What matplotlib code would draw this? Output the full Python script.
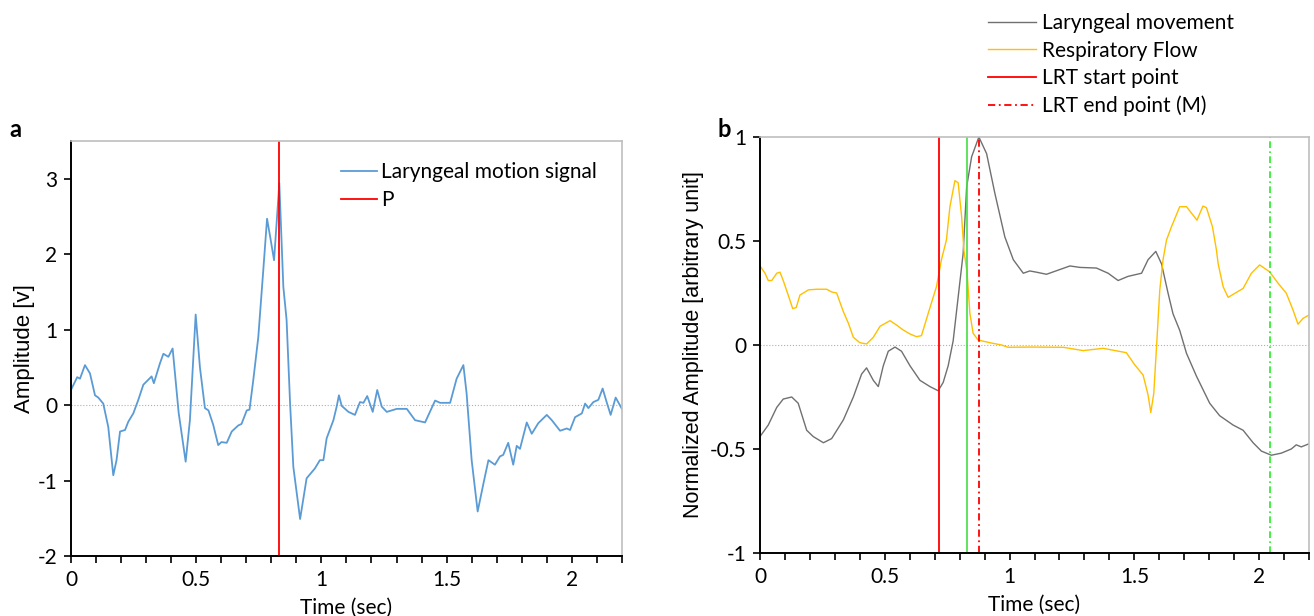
import matplotlib
matplotlib.use('Agg')
import numpy as np
import matplotlib.pyplot as plt
from matplotlib.ticker import MultipleLocator

plt.rcParams['font.family'] = ['Lato', 'DejaVu Sans']
FS = 15
YLABEL_FONT = ['Liberation Sans', 'DejaVu Sans']

# --- panel a: laryngeal motion signal (time in sec, amplitude in v) ---
a_time = [0.0, 0.025, 0.036, 0.056, 0.076, 0.096, 0.109, 0.129, 0.149, 0.169,
          0.182, 0.196, 0.216, 0.229, 0.249, 0.269, 0.289, 0.322, 0.331, 0.355,
          0.369, 0.389, 0.406, 0.43, 0.458, 0.475, 0.498, 0.515, 0.535, 0.549,
          0.568, 0.588, 0.601, 0.622, 0.642, 0.668, 0.681, 0.702, 0.713, 0.728,
          0.748, 0.768, 0.783, 0.797, 0.811, 0.832, 0.848, 0.861, 0.875, 0.888,
          0.915, 0.941, 0.974, 0.994, 1.008, 1.021, 1.048, 1.061, 1.070, 1.081,
          1.108, 1.134, 1.154, 1.168, 1.183, 1.205, 1.223, 1.241, 1.261, 1.301,
          1.341, 1.374, 1.414, 1.454, 1.474, 1.514, 1.540, 1.567, 1.580, 1.600,
          1.624, 1.647, 1.667, 1.693, 1.713, 1.726, 1.746, 1.766, 1.780, 1.793,
          1.820, 1.840, 1.866, 1.900, 1.920, 1.953, 1.980, 1.993, 2.013, 2.040,
          2.053, 2.066, 2.086, 2.106, 2.123, 2.139, 2.155, 2.175, 2.185, 2.2]
a_signal = [0.2, 0.37, 0.35, 0.53, 0.42, 0.13, 0.10, 0.02, -0.29, -0.93,
            -0.73, -0.35, -0.33, -0.22, -0.11, 0.07, 0.27, 0.38, 0.29, 0.55,
            0.68, 0.64, 0.75, -0.1, -0.75, -0.2, 1.2, 0.5, -0.04, -0.07,
            -0.26, -0.53, -0.49, -0.5, -0.35, -0.27, -0.25, -0.07, -0.06, 0.33,
            0.9, 1.79, 2.47, 2.2, 1.92, 2.94, 1.57, 1.13, 0.02, -0.82,
            -1.51, -0.97, -0.84, -0.73, -0.73, -0.44, -0.2, -0.02, 0.13, -0.01,
            -0.09, -0.13, 0.04, 0.03, 0.12, -0.09, 0.2, -0.02, -0.09, -0.05,
            -0.05, -0.2, -0.23, 0.06, 0.03, 0.03, 0.35, 0.53, 0.15, -0.73,
            -1.41, -1.04, -0.73, -0.79, -0.68, -0.66, -0.5, -0.79, -0.54, -0.58,
            -0.23, -0.38, -0.24, -0.13, -0.2, -0.34, -0.31, -0.33, -0.16, -0.11,
            0.02, -0.04, 0.04, 0.07, 0.22, 0.04, -0.13, 0.1, 0.04, -0.05]
p_time = 0.832

# --- panel b: laryngeal movement and respiratory flow (normalized) ---
lm_time = [0.0, 0.033, 0.067, 0.093, 0.127, 0.153, 0.187, 0.213, 0.254, 0.287,
           0.334, 0.374, 0.407, 0.427, 0.454, 0.474, 0.494, 0.514, 0.541, 0.567,
           0.601, 0.641, 0.681, 0.714, 0.734, 0.754, 0.774, 0.794, 0.814, 0.828,
           0.848, 0.877, 0.908, 0.941, 0.981, 1.015, 1.055, 1.081, 1.108, 1.148,
           1.195, 1.242, 1.282, 1.348, 1.395, 1.435, 1.475, 1.529, 1.555, 1.586,
           1.609, 1.635, 1.655, 1.682, 1.709, 1.749, 1.802, 1.842, 1.896, 1.936,
           1.976, 2.009, 2.049, 2.089, 2.129, 2.149, 2.169, 2.2]
lm_value = [-0.44, -0.385, -0.30, -0.26, -0.25, -0.28, -0.41, -0.44, -0.47, -0.45,
            -0.36, -0.25, -0.14, -0.11, -0.17, -0.20, -0.10, -0.03, -0.01, -0.03,
            -0.10, -0.17, -0.20, -0.22, -0.18, -0.10, 0.02, 0.23, 0.44, 0.76,
            0.905, 1.0, 0.92, 0.73, 0.52, 0.41, 0.345, 0.356, 0.35, 0.34,
            0.36, 0.38, 0.373, 0.37, 0.345, 0.31, 0.33, 0.345, 0.41, 0.45,
            0.39, 0.25, 0.15, 0.07, -0.04, -0.15, -0.28, -0.34, -0.385, -0.41,
            -0.47, -0.51, -0.53, -0.52, -0.50, -0.48, -0.49, -0.475]

rf_time = [0.0, 0.02, 0.033, 0.047, 0.067, 0.08, 0.093, 0.113, 0.131, 0.145,
           0.160, 0.194, 0.227, 0.267, 0.287, 0.307, 0.334, 0.354, 0.374, 0.40,
           0.427, 0.454, 0.481, 0.521, 0.547, 0.574, 0.601, 0.627, 0.647, 0.674,
           0.707, 0.727, 0.747, 0.761, 0.781, 0.794, 0.808, 0.817, 0.830, 0.841,
           0.854, 0.874, 0.921, 0.968, 0.994, 1.081, 1.215, 1.295, 1.375, 1.468,
           1.502, 1.535, 1.555, 1.566, 1.578, 1.589, 1.602, 1.615, 1.629, 1.649,
           1.682, 1.709, 1.751, 1.775, 1.789, 1.813, 1.829, 1.836, 1.856, 1.876,
           1.909, 1.936, 1.969, 2.002, 2.042, 2.076, 2.109, 2.136, 2.156, 2.176,
           2.2]
rf_value = [0.38, 0.345, 0.31, 0.31, 0.345, 0.35, 0.31, 0.24, 0.175, 0.18,
            0.24, 0.265, 0.268, 0.268, 0.255, 0.25, 0.16, 0.105, 0.037, 0.011,
            0.005, 0.037, 0.09, 0.117, 0.096, 0.072, 0.053, 0.04, 0.045, 0.152,
            0.28, 0.41, 0.505, 0.665, 0.79, 0.78, 0.617, 0.457, 0.345, 0.152,
            0.056, 0.024, 0.011, 0.0, -0.011, -0.01, -0.011, -0.027, -0.016, -0.037,
            -0.096, -0.144, -0.24, -0.325, -0.232, -0.008, 0.264, 0.41, 0.505, 0.569,
            0.665, 0.665, 0.60, 0.668, 0.66, 0.569, 0.457, 0.39, 0.28, 0.229,
            0.253, 0.272, 0.345, 0.385, 0.352, 0.297, 0.249, 0.168, 0.10, 0.128,
            0.144]

lrt_start = 0.716
lrt_end = 0.877
green_start = 0.83
green_end = 2.045


def style_axes(ax):
    for side in ['top', 'right']:
        ax.spines[side].set_color('#bfbfbf')
        ax.spines[side].set_linewidth(1.2)
    for side in ['left', 'bottom']:
        ax.spines[side].set_color('black')
        ax.spines[side].set_linewidth(1.4)
    ax.xaxis.set_major_locator(MultipleLocator(0.5))
    ax.xaxis.set_minor_locator(MultipleLocator(0.1))
    ax.xaxis.set_major_formatter(plt.FuncFormatter(lambda v, p: f'{v:g}'))
    ax.yaxis.set_major_formatter(plt.FuncFormatter(lambda v, p: f'{v:g}'))
    ax.tick_params(axis='both', which='both', direction='out', length=5,
                   width=1.2, color='black', labelsize=FS, pad=5)
    ax.axhline(0, color='#b0b0b0', lw=0.8, ls=':', zorder=0)
    ax.set_xlim(0, 2.2)
    ax.set_xlabel('Time (sec)', fontsize=FS, labelpad=6)


fig = plt.figure(figsize=(13.14, 6.16), dpi=100)

# panel a
ax1 = fig.add_axes([0.054, 0.0974, 0.4193, 0.6737])
ax1.plot(a_time, a_signal, color='#5b9bd5', lw=1.3, label='Laryngeal motion signal')
ax1.axvline(p_time, color='red', lw=1.3, label='P')
ax1.set_ylim(-2, 3.5)
ax1.set_yticks([-2, -1, 0, 1, 2, 3])
style_axes(ax1)
ax1.set_ylabel('Amplitude [v]', fontsize=16, family=YLABEL_FONT, labelpad=2)
ax1.legend(loc='upper left', bbox_to_anchor=(0.471, 0.975), frameon=False,
           handlelength=1.75, handletextpad=0.2, labelspacing=0.4,
           borderpad=0, fontsize=FS)
fig.text(0.007, 0.79, 'a', fontsize=17, fontweight='bold', va='center')

# panel b
ax2 = fig.add_axes([0.5784, 0.1023, 0.4178, 0.6753])
ax2.plot(lm_time, lm_value, color='#707070', lw=1.0, label='Laryngeal movement')
ax2.plot(rf_time, rf_value, color='#ffc000', lw=1.0, label='Respiratory Flow')
ax2.axvline(lrt_start, color='red', lw=1.3, label='LRT start point')
ax2.axvline(lrt_end, color='red', lw=1.3, ls=(0, (4, 2, 1, 2)),
            label='LRT end point (M)')
ax2.axvline(green_start, color='#44dd44', lw=1.2)
ax2.axvline(green_end, color='#22ee22', lw=1.2, ls=(0, (4, 2, 1, 2)))
ax2.set_ylim(-1, 1)
ax2.set_yticks([-1, -0.5, 0, 0.5, 1])
style_axes(ax2)
ax2.set_ylabel('Normalized Amplitude [arbitrary unit]', fontsize=15.5,
               family=YLABEL_FONT, labelpad=4)
ax2.legend(loc='upper left', bbox_to_anchor=(0.397, 1.322), frameon=False,
           handlelength=2.3, handletextpad=0.25, labelspacing=0.35,
           borderpad=0, fontsize=FS)
fig.text(0.546, 0.79, 'b', fontsize=17, fontweight='bold', va='center')

plt.savefig('out.png', dpi=100)
plt.close(fig)
